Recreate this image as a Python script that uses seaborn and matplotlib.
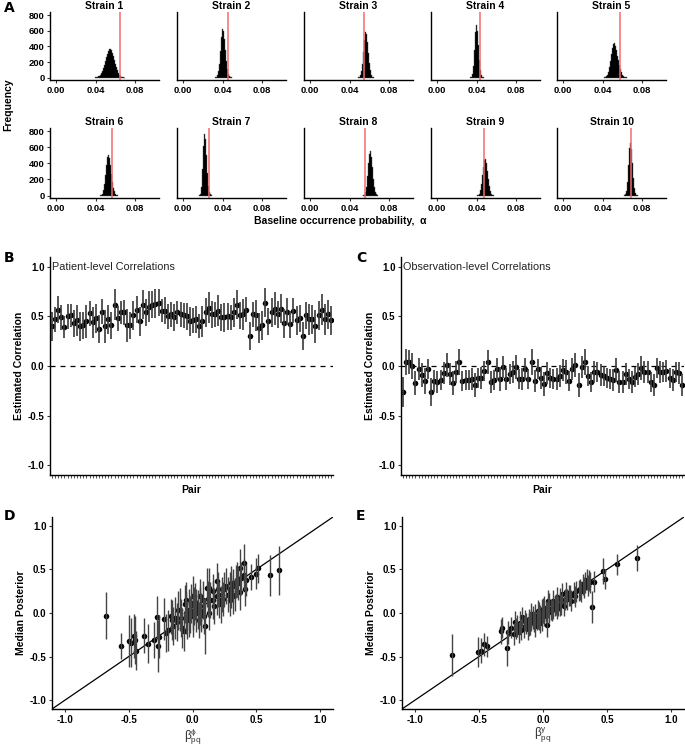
import numpy as np
import pandas as pd
import matplotlib
matplotlib.use("Agg")
import matplotlib.pyplot as plt
import seaborn as sns

# --- Panel A: posterior histograms of baseline probability (bin width 0.001) ---
strains = ["Strain %d" % i for i in range(1, 11)]
hist_start = [0.040, 0.033, 0.049, 0.034, 0.042, 0.045, 0.017, 0.054, 0.041, 0.062]
hist_counts = [
    [2, 4, 8, 15, 25, 40, 60, 90, 125, 165, 210, 260, 305, 345, 365, 370, 355, 320, 275, 225, 175, 130, 92, 60, 38, 22, 12, 6, 3, 1],
    [3, 10, 30, 80, 180, 340, 520, 620, 600, 500, 350, 210, 110, 50, 20, 7, 2],
    [3, 10, 30, 80, 180, 330, 480, 580, 560, 460, 320, 190, 95, 40, 14, 4],
    [3, 12, 45, 150, 350, 580, 680, 600, 420, 230, 100, 35, 10, 3],
    [2, 6, 15, 35, 70, 130, 210, 300, 380, 430, 440, 410, 350, 280, 220, 160, 110, 70, 40, 22, 10, 4, 2],
    [2, 8, 25, 65, 140, 250, 380, 480, 510, 470, 380, 270, 175, 100, 52, 24, 10, 4],
    [3, 25, 110, 330, 620, 760, 700, 500, 280, 120, 45, 14, 4],
    [3, 12, 40, 110, 240, 400, 520, 550, 480, 350, 210, 105, 45, 15, 4],
    [2, 8, 25, 65, 140, 250, 360, 445, 460, 410, 300, 200, 115, 55, 22, 8, 2],
    [3, 15, 55, 170, 380, 590, 655, 580, 410, 220, 95, 32, 9, 2],
]
true_alpha = [0.065, 0.0455, 0.055, 0.043, 0.058, 0.057, 0.026, 0.056, 0.047, 0.069]
bin_w = 0.001

# --- Panel B: patient-level correlations (90 pairs) ---
b_med = [0.40, 0.47, 0.57, 0.49, 0.39, 0.50, 0.51, 0.43, 0.46, 0.40,
         0.41, 0.45, 0.53, 0.44, 0.48, 0.37, 0.55, 0.40, 0.47, 0.41,
         0.62, 0.48, 0.54, 0.54, 0.41, 0.41, 0.51, 0.57, 0.45, 0.62,
         0.54, 0.60, 0.62, 0.63, 0.64, 0.56, 0.56, 0.50, 0.52, 0.49,
         0.54, 0.52, 0.51, 0.50, 0.45, 0.46, 0.47, 0.40, 0.45, 0.54,
         0.59, 0.52, 0.52, 0.56, 0.49, 0.49, 0.50, 0.49, 0.54, 0.62,
         0.51, 0.52, 0.57, 0.30, 0.52, 0.51, 0.38, 0.41, 0.64, 0.45,
         0.54, 0.58, 0.52, 0.58, 0.43, 0.55, 0.42, 0.56, 0.46, 0.48,
         0.30, 0.51, 0.47, 0.47, 0.40, 0.51, 0.57, 0.47, 0.52, 0.46]
b_err = [0.15, 0.13, 0.14, 0.13, 0.11, 0.13, 0.12, 0.14, 0.16, 0.15,
         0.14, 0.17, 0.13, 0.16, 0.15, 0.14, 0.13, 0.17, 0.15, 0.14,
         0.16, 0.13, 0.12, 0.13, 0.17, 0.14, 0.15, 0.14, 0.15, 0.15,
         0.14, 0.16, 0.14, 0.15, 0.14, 0.12, 0.14, 0.13, 0.13, 0.14,
         0.12, 0.13, 0.13, 0.14, 0.15, 0.13, 0.14, 0.12, 0.16, 0.15,
         0.16, 0.14, 0.13, 0.16, 0.14, 0.15, 0.14, 0.13, 0.15, 0.15,
         0.14, 0.16, 0.13, 0.14, 0.13, 0.16, 0.15, 0.15, 0.15, 0.14,
         0.15, 0.17, 0.14, 0.15, 0.15, 0.14, 0.14, 0.13, 0.15, 0.14,
         0.14, 0.14, 0.16, 0.15, 0.17, 0.15, 0.16, 0.16, 0.15, 0.15]

# --- Panel C: observation-level correlations (90 pairs) ---
c_med = [-0.26, 0.04, 0.04, 0.00, -0.17, -0.03, -0.09, -0.15, -0.03, -0.26,
         -0.15, -0.16, -0.14, -0.07, 0.01, -0.08, -0.17, -0.06, 0.04, -0.15,
         -0.14, -0.14, -0.13, -0.19, -0.12, -0.12, -0.05, 0.04, -0.16, -0.14,
         -0.03, -0.13, -0.01, -0.13, -0.08, -0.06, -0.01, -0.13, -0.13, -0.03,
         -0.13, 0.04, -0.15, -0.03, -0.12, -0.18, -0.07, -0.12, -0.13, -0.13,
         -0.10, -0.04, -0.06, -0.15, -0.03, 0.01, -0.19, -0.01, 0.04, -0.10,
         -0.16, -0.06, -0.06, -0.09, -0.10, -0.12, -0.13, -0.14, -0.04, -0.16,
         -0.16, -0.08, -0.13, -0.16, -0.11, -0.08, -0.02, -0.06, -0.06, -0.16,
         -0.19, -0.02, -0.06, -0.06, -0.05, -0.12, -0.14, -0.06, -0.07, -0.19]
c_err = [0.15, 0.13, 0.12, 0.13, 0.12, 0.11, 0.12, 0.13, 0.10, 0.14,
         0.11, 0.11, 0.10, 0.11, 0.12, 0.11, 0.12, 0.11, 0.13, 0.10,
         0.10, 0.10, 0.11, 0.12, 0.10, 0.11, 0.10, 0.12, 0.11, 0.10,
         0.11, 0.12, 0.11, 0.11, 0.10, 0.11, 0.12, 0.10, 0.11, 0.11,
         0.10, 0.13, 0.11, 0.10, 0.11, 0.12, 0.11, 0.10, 0.10, 0.11,
         0.11, 0.11, 0.12, 0.10, 0.11, 0.12, 0.12, 0.11, 0.13, 0.10,
         0.10, 0.11, 0.10, 0.11, 0.10, 0.10, 0.10, 0.11, 0.12, 0.11,
         0.11, 0.11, 0.10, 0.11, 0.10, 0.11, 0.12, 0.11, 0.11, 0.10,
         0.11, 0.10, 0.11, 0.10, 0.11, 0.10, 0.11, 0.10, 0.11, 0.11]

# --- Panel D: true beta^phi vs median posterior ---
d_beta = [-0.68, -0.56, -0.50, -0.48, -0.46, -0.45, -0.44, -0.38, -0.35, -0.30,
          -0.28, -0.27, -0.26, -0.22, -0.21, -0.19, -0.17, -0.16, -0.15, -0.14,
          -0.12, -0.11, -0.10, -0.09, -0.08, -0.07, -0.06, -0.05, -0.05, -0.04,
          -0.03, -0.03, -0.02, -0.01, 0.00, 0.00, 0.00, 0.01, 0.02, 0.03,
          0.03, 0.04, 0.05, 0.06, 0.06, 0.07, 0.07, 0.08, 0.09, 0.10,
          0.11, 0.12, 0.13, 0.13, 0.14, 0.16, 0.16, 0.17, 0.19, 0.19,
          0.20, 0.21, 0.23, 0.24, 0.25, 0.26, 0.28, 0.29, 0.29, 0.30,
          0.30, 0.32, 0.32, 0.33, 0.34, 0.35, 0.36, 0.37, 0.37, 0.38,
          0.40, 0.40, 0.41, 0.42, 0.46, 0.50, 0.51, 0.61, 0.68, 0.22]
d_post = [-0.03, -0.38, -0.32, -0.34, -0.26, -0.31, -0.43, -0.26, -0.35, -0.31,
          -0.05, -0.38, -0.27, -0.07, -0.23, -0.20, -0.04, -0.08, -0.15, -0.06,
          -0.10, 0.03, 0.04, -0.06, -0.17, -0.21, 0.10, 0.00, 0.15, -0.08,
          0.04, -0.05, -0.02, 0.11, 0.19, 0.02, -0.04, 0.08, 0.13, 0.00,
          0.08, 0.04, -0.08, 0.08, 0.19, 0.02, -0.02, 0.15, -0.04, -0.15,
          0.29, 0.16, 0.00, 0.29, 0.15, 0.25, 0.15, 0.08, 0.37, 0.19,
          0.27, 0.15, 0.21, 0.16, 0.27, 0.31, 0.21, 0.15, 0.27, 0.25,
          0.34, 0.31, 0.19, 0.21, 0.36, 0.38, 0.34, 0.52, 0.24, 0.40,
          0.57, 0.44, 0.27, 0.38, 0.41, 0.45, 0.51, 0.43, 0.49, 0.10]
d_err = [0.27, 0.15, 0.30, 0.28, 0.25, 0.27, 0.22, 0.20, 0.22, 0.21,
         0.24, 0.30, 0.25, 0.24, 0.22, 0.24, 0.20, 0.23, 0.22, 0.24,
         0.22, 0.22, 0.25, 0.22, 0.23, 0.22, 0.22, 0.24, 0.20, 0.22,
         0.24, 0.22, 0.21, 0.22, 0.23, 0.22, 0.24, 0.22, 0.21, 0.22,
         0.20, 0.22, 0.21, 0.22, 0.20, 0.21, 0.20, 0.22, 0.20, 0.32,
         0.22, 0.21, 0.20, 0.22, 0.21, 0.20, 0.22, 0.21, 0.20, 0.21,
         0.20, 0.21, 0.20, 0.19, 0.20, 0.21, 0.20, 0.19, 0.20, 0.19,
         0.20, 0.19, 0.20, 0.19, 0.19, 0.20, 0.19, 0.21, 0.20, 0.19,
         0.22, 0.18, 0.19, 0.18, 0.15, 0.18, 0.17, 0.24, 0.28, 0.21]

# --- Panel E: true beta^gamma vs median posterior ---
e_beta = [-0.71, -0.51, -0.48, -0.46, -0.44, -0.33, -0.32, -0.28, -0.27, -0.25,
          -0.23, -0.21, -0.20, -0.19, -0.18, -0.16, -0.15, -0.14, -0.13, -0.12,
          -0.11, -0.11, -0.10, -0.09, -0.09, -0.08, -0.07, -0.06, -0.06, -0.05,
          -0.04, -0.04, -0.03, -0.03, -0.02, -0.01, -0.01, 0.00, 0.00, 0.01,
          0.01, 0.02, 0.03, 0.03, 0.04, 0.04, 0.05, 0.06, 0.07, 0.08,
          0.08, 0.09, 0.10, 0.11, 0.11, 0.12, 0.13, 0.14, 0.15, 0.16,
          0.17, 0.18, 0.19, 0.20, 0.21, 0.22, 0.24, 0.26, 0.28, 0.29,
          0.30, 0.31, 0.32, 0.33, 0.34, 0.35, 0.36, 0.37, 0.38, 0.40,
          0.47, 0.48, 0.58, 0.73, -0.22, -0.17, -0.02, 0.05, 0.13, 0.25]
e_post = [-0.48, -0.45, -0.43, -0.36, -0.38, -0.21, -0.17, -0.40, -0.22, -0.17,
          -0.24, -0.18, -0.15, -0.22, -0.11, -0.05, -0.16, -0.09, -0.12, -0.18,
          -0.07, -0.14, -0.12, -0.01, -0.09, -0.05, -0.10, -0.03, -0.15, -0.08,
          0.02, -0.06, -0.07, 0.00, -0.03, 0.04, -0.08, 0.00, 0.05, 0.06,
          -0.03, 0.02, -0.14, 0.01, 0.06, 0.14, 0.01, 0.04, 0.03, 0.14,
          0.05, 0.08, 0.10, 0.05, 0.18, 0.08, 0.17, 0.10, 0.22, 0.08,
          0.15, 0.24, 0.16, 0.20, 0.20, 0.14, 0.23, 0.25, 0.26, 0.27,
          0.25, 0.33, 0.29, 0.35, 0.38, 0.31, 0.37, 0.35, 0.07, 0.36,
          0.48, 0.39, 0.56, 0.63, -0.10, -0.19, -0.11, 0.11, 0.09, 0.19]
e_err = [0.24, 0.17, 0.14, 0.13, 0.12, 0.14, 0.12, 0.21, 0.13, 0.12,
         0.13, 0.12, 0.13, 0.12, 0.13, 0.12, 0.13, 0.12, 0.12, 0.13,
         0.12, 0.12, 0.13, 0.12, 0.12, 0.13, 0.12, 0.13, 0.12, 0.12,
         0.13, 0.12, 0.12, 0.13, 0.12, 0.12, 0.13, 0.12, 0.12, 0.13,
         0.12, 0.12, 0.13, 0.12, 0.12, 0.12, 0.13, 0.12, 0.12, 0.12,
         0.12, 0.12, 0.12, 0.12, 0.12, 0.12, 0.12, 0.12, 0.12, 0.12,
         0.12, 0.12, 0.12, 0.12, 0.12, 0.12, 0.12, 0.12, 0.12, 0.12,
         0.12, 0.12, 0.12, 0.12, 0.12, 0.12, 0.12, 0.12, 0.18, 0.12,
         0.15, 0.11, 0.12, 0.15, 0.12, 0.12, 0.12, 0.12, 0.12, 0.12]

sns.set_theme(style="ticks")
plt.rcParams["font.family"] = ["Liberation Sans", "DejaVu Sans"]
plt.rcParams["axes.linewidth"] = 1.0

W, H = 685, 746
fig = plt.figure(figsize=(W / 100, H / 100), dpi=100)


def px_axes(left, top, right, bottom):
    return fig.add_axes([left / W, 1 - bottom / H, (right - left) / W, (bottom - top) / H])


def style(ax, size=7):
    sns.despine(ax=ax)
    for s in ["left", "bottom"]:
        ax.spines[s].set_color("black")
        ax.spines[s].set_linewidth(1.0)
    ax.tick_params(axis="both", length=2.5, width=0.8, color="#333333",
                   labelsize=size, pad=1.5, labelcolor="black")
    for lab in ax.get_xticklabels() + ax.get_yticklabels():
        lab.set_fontweight("bold")


bold = dict(fontweight="bold", color="black")

# ---------- Panel A ----------
col_left = [50, 177, 304, 431, 557]
rows = [(12, 80), (128, 198)]
for i, name in enumerate(strains):
    r, c = divmod(i, 5)
    top, bot = rows[r]
    ax = px_axes(col_left[c], top, col_left[c] + 109, bot)
    counts = hist_counts[i]
    centers = hist_start[i] + bin_w * np.arange(len(counts))
    df = pd.DataFrame({"alpha": centers, "n": counts})
    sns.histplot(data=df, x="alpha", weights="n", bins=len(counts),
                 binrange=(centers[0] - bin_w / 2, centers[-1] + bin_w / 2), element="step",
                 color="black", alpha=1, linewidth=0.3, edgecolor="#555555", ax=ax)
    ax.axvline(true_alpha[i], color="#F26D6D", lw=1.1)
    ax.set_xlim(-0.006, 0.104)
    ax.set_ylim(-30, 840)
    ax.set_xticks([0.00, 0.04, 0.08])
    ax.set_xticklabels(["0.00", "0.04", "0.08"])
    ax.set_yticks([0, 200, 400, 600, 800])
    if c != 0:
        ax.set_yticks([])
        ax.spines["left"].set_visible(False)
    ax.set_xlabel("")
    ax.set_ylabel("")
    ax.set_title(name, fontsize=7.5, pad=2, **bold)
    style(ax, size=6.8)

fig.text(8 / W, 1 - 105 / H, "Frequency", rotation=90, ha="center", va="center", fontsize=7.5, **bold)
fig.text(340 / W, 1 - 221 / H, "Baseline occurrence probability,  \u03b1", ha="center", va="center",
         fontsize=7.5, **bold)

# ---------- Panels B and C ----------
pairs = np.arange(1, len(b_med) + 1)
for (x0, x1), med, err, title in [((50, 333), b_med, b_err, "Patient-level Correlations"),
                                  ((401, 684), c_med, c_err, "Observation-level Correlations")]:
    ax = px_axes(x0, 257, x1, 475)
    med = np.array(med)
    err = np.array(err)
    ax.axhline(0, color="black", lw=0.9, ls=(0, (4, 4)))
    ax.vlines(pairs, med - err, med + err, color="#3a3a3a", lw=1.2)
    sns.scatterplot(x=pairs, y=med, color="black", s=16, linewidth=0, ax=ax)
    ax.set_xlim(0.4, len(pairs) + 0.6)
    ax.set_ylim(-1.1, 1.1)
    ax.set_xticks(pairs)
    ax.set_xticklabels([])
    ax.set_yticks([-1.0, -0.5, 0.0, 0.5, 1.0])
    ax.set_yticklabels(["-1.0", "-0.5", "0.0", "0.5", "1.0"])
    ax.text(0.008, 1.0, title, transform=ax.get_yaxis_transform(), ha="left", va="center",
            fontsize=7.8, color="#222222")
    ax.set_xlabel("Pair", fontsize=7.5, labelpad=4, **bold)
    ax.set_ylabel("Estimated Correlation", fontsize=7.5, labelpad=3, **bold)
    style(ax)
    ax.tick_params(axis="x", length=2, width=0.6)

# ---------- Panels D and E ----------
for (x0, x1), bx, by, be, lab in [((52, 333), d_beta, d_post, d_err, r"$\mathregular{\beta_{pq}^{\phi}}$"),
                                  ((402, 684), e_beta, e_post, e_err, r"$\mathregular{\beta_{pq}^{\gamma}}$")]:
    ax = px_axes(x0, 517, x1, 709)
    bx = np.array(bx)
    by = np.array(by)
    be = np.array(be)
    ax.plot([-1.1, 1.1], [-1.1, 1.1], color="black", lw=0.9)
    ax.vlines(bx, by - be, by + be, color="#444444", lw=1.0)
    sns.scatterplot(x=bx, y=by, color="black", s=16, linewidth=0, ax=ax)
    ax.set_xlim(-1.1, 1.1)
    ax.set_ylim(-1.1, 1.1)
    ticks = [-1.0, -0.5, 0.0, 0.5, 1.0]
    ax.set_xticks(ticks)
    ax.set_xticklabels(["-1.0", "-0.5", "0.0", "0.5", "1.0"])
    ax.set_yticks(ticks)
    ax.set_yticklabels(["-1.0", "-0.5", "0.0", "0.5", "1.0"])
    ax.set_xlabel(lab, fontsize=8.5, labelpad=1, color="#333333")
    ax.set_ylabel("Median Posterior", fontsize=7.5, labelpad=3, **bold)
    style(ax)

# panel letters
for letter, x, y in [("A", 4, 8), ("B", 4, 258), ("C", 356, 258), ("D", 4, 516), ("E", 356, 516)]:
    fig.text(x / W, 1 - y / H, letter, fontsize=10, fontweight="bold", family="DejaVu Sans",
             ha="left", va="center", color="black")

fig.savefig("out.png", dpi=100)
